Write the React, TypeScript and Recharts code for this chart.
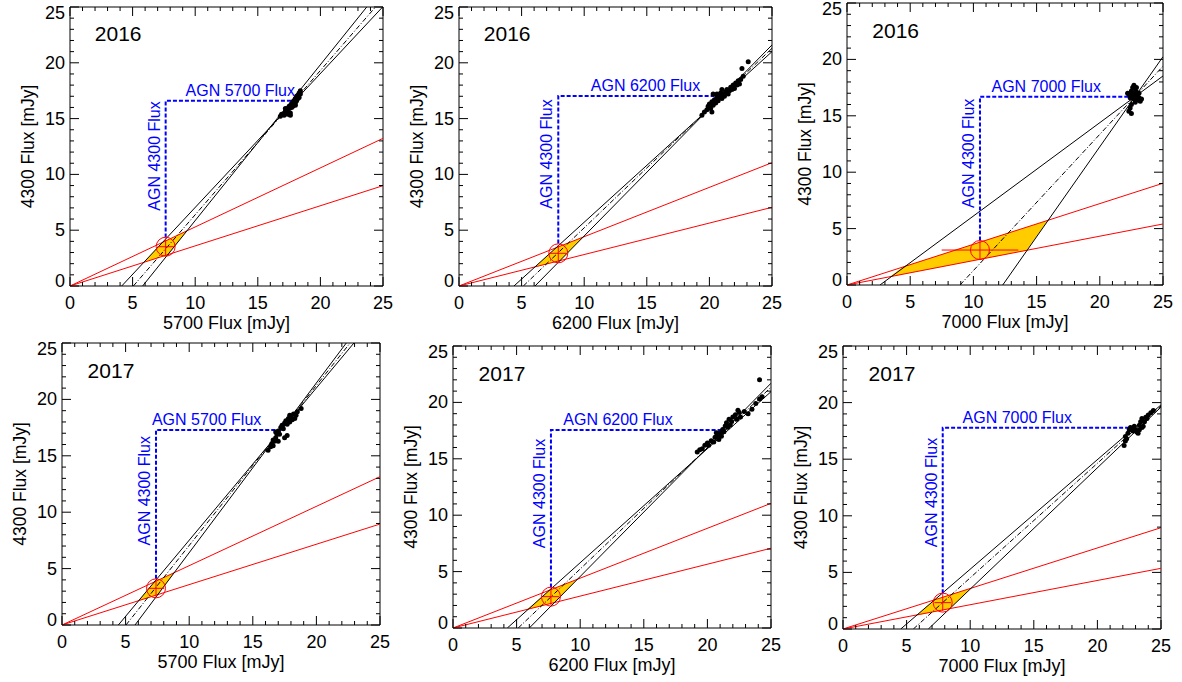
import { Scatter, ScatterChart, XAxis, YAxis } from 'recharts'

const FONT = '"Liberation Sans", Arial, Helvetica, sans-serif'

const years = ['2016', '2016', '2016', '2017', '2017', '2017']
const bands = ['5700', '6200', '7000', '5700', '6200', '7000']
const ticks = [0, 1, 2, 3, 4, 5, 6, 7, 8, 9, 10, 11, 12, 13, 14, 15, 16, 17, 18, 19, 20, 21, 22, 23, 24, 25]

// host galaxy ratio lines through the origin: y reached at x = 25
const hostHighAt25 = [13.23, 11.05, 9.02, 13.15, 11.05, 8.95]
const hostLowAt25 = [8.99, 7.05, 5.41, 8.95, 7.07, 5.36]

// flux-flux fits: [x where y = 0, end x, end y]
const fitA = [[4.13, 24.97, 25], [4.39, 25, 21.0], [2.61, 25, 18.53], [4.43, 22.95, 25], [4.27, 25, 20.95], [4.54, 25, 19.8]]
const fitMid = [[5.06, 24.4, 25], [5.14, 25, 21.3], [8.94, 25, 19.4], [5.03, 22.65, 25], [5.13, 25, 21.35], [5.53, 25, 19.7]]
const fitB = [[5.8, 23.7, 25], [6.07, 25, 21.6], [12.32, 25, 20.24], [5.74, 22.35, 25], [6.0, 25, 21.7], [6.71, 25, 19.6]]

// overlap of host wedge and fit band
const overlap = [
  [[5.9, 2.12], [7.39, 3.91], [9.34, 4.94], [7.81, 2.81]],
  [[6.07, 1.71], [7.75, 3.43], [9.91, 4.38], [8.06, 2.27]],
  [[3.35, 0.72], [4.45, 1.61], [15.9, 5.75], [14.2, 3.06]],
  [[6.03, 2.16], [7.25, 3.81], [8.82, 4.64], [7.53, 2.7]],
  [[5.8, 1.62], [7.59, 3.35], [9.75, 4.3], [7.98, 2.26]],
  [[5.8, 1.2], [7.2, 2.58], [10.05, 3.6], [8.38, 1.79]],
]

// AGN estimate: [x, y, x err, y err]
const agn = [[7.64, 3.52, 0.65, 0.75], [7.93, 2.93, 0.65, 0.75], [10.52, 3.1, 3.03, 0.8], [7.39, 3.25, 0.65, 0.75], [7.7, 2.78, 0.65, 0.75], [7.84, 2.33, 0.65, 0.75]]
const guideFrom = [4.35, 3.8, 3.95, 4.1, 3.6, 3.15]
const guideY = [16.6, 17.03, 16.69, 17.29, 17.55, 17.78]
const guideTo = [18.05, 21.1, 22.4, 17.27, 21.25, 22.9]
const agnLabelX = [13.6, 14.9, 15.76, 11.37, 12.97, 13.7]
const hostLabelY = [11.65, 11.83, 11.67, 11.9, 11.93, 12.06]
const yearAt = [3.85, 22.6]

const flux2016_5700 = [
  [16.8, 15.2], [16.9, 15.4], [17.1, 15.3], [17.2, 15.6], [17.3, 15.8], [17.4, 15.6], [17.5, 15.9], [17.5, 16.1],
  [17.6, 15.3], [17.7, 16.0], [17.7, 16.3], [17.8, 16.1], [17.8, 16.5], [17.9, 16.3], [17.9, 16.6], [18.0, 16.4],
  [18.0, 16.8], [18.1, 16.6], [18.1, 17.0], [18.2, 16.8], [18.2, 17.1], [18.3, 17.3], [18.3, 16.9], [18.4, 17.2],
  [18.4, 17.5], [17.6, 15.5], [17.2, 15.9], [18.0, 16.2], [17.4, 15.4],
]
const flux2016_6200 = [
  [19.4, 15.3], [19.6, 15.6], [19.8, 15.8], [19.9, 16.1], [20.0, 16.3], [20.1, 15.9], [20.2, 16.5], [20.2, 15.6],
  [20.3, 16.2], [20.4, 16.7], [20.5, 16.4], [20.6, 16.9], [20.6, 17.2], [20.7, 16.6], [20.8, 17.0], [20.9, 17.3],
  [21.0, 16.8], [21.1, 17.2], [21.2, 17.0], [21.3, 17.4], [21.4, 17.6], [21.5, 17.2], [21.6, 17.5], [21.7, 17.8],
  [21.8, 17.6], [21.9, 18.0], [22.0, 17.7], [22.1, 18.2], [22.2, 18.0], [22.3, 18.4], [22.4, 18.1], [22.5, 18.5],
  [22.7, 18.8], [22.6, 19.5], [23.1, 20.1], [20.3, 17.2], [21.0, 17.6],
]
const flux2016_7000 = [
  [22.4, 16.9], [22.5, 17.2], [22.6, 17.5], [22.7, 17.7], [22.8, 17.4], [22.9, 17.1], [22.6, 16.8], [22.4, 16.6],
  [22.3, 16.9], [22.7, 16.5], [22.9, 16.7], [23.0, 16.9], [23.1, 16.6], [23.2, 16.3], [22.8, 16.2], [23.0, 16.4],
  [22.5, 16.0], [22.4, 15.7], [22.3, 15.4], [22.5, 15.2], [22.6, 17.0], [22.8, 16.9], [23.1, 17.0], [22.9, 17.5],
  [23.3, 16.5], [22.2, 17.0],
]
const flux2017_5700 = [
  [16.2, 15.5], [16.4, 15.8], [16.5, 16.1], [16.6, 15.9], [16.7, 16.3], [16.8, 16.6], [16.9, 16.9], [16.8, 17.1],
  [17.0, 17.2], [17.1, 16.9], [17.2, 17.5], [17.3, 17.7], [17.4, 17.4], [17.5, 17.9], [17.6, 18.1], [17.7, 17.8],
  [17.8, 18.3], [17.9, 18.0], [18.0, 18.5], [18.1, 18.2], [18.2, 18.7], [18.4, 18.6], [18.5, 18.9], [18.8, 19.2],
  [17.5, 16.6], [17.7, 16.8], [17.0, 16.3], [16.6, 16.4], [17.9, 18.6], [18.3, 18.3],
]
const flux2017_6200 = [
  [19.2, 15.6], [19.4, 15.8], [19.6, 15.9], [19.8, 16.2], [20.0, 16.4], [20.1, 16.2], [20.3, 16.6], [20.5, 16.5],
  [20.6, 16.9], [20.8, 17.0], [20.9, 16.7], [21.0, 17.3], [21.1, 17.0], [21.2, 17.6], [21.3, 17.4], [21.4, 17.9],
  [21.5, 18.2], [21.6, 17.8], [21.7, 18.5], [21.9, 18.3], [22.0, 18.7], [22.2, 18.9], [22.3, 18.5], [22.5, 19.1],
  [22.6, 18.7], [22.9, 19.2], [23.2, 19.0], [23.5, 19.4], [23.8, 19.9], [24.1, 20.3], [24.3, 20.5], [24.1, 22.0],
  [20.7, 17.3], [21.8, 18.0], [22.4, 19.3],
]
const flux2017_7000 = [
  [22.1, 16.2], [22.2, 16.6], [22.2, 17.0], [22.3, 16.8], [22.4, 17.3], [22.5, 17.6], [22.6, 17.8], [22.7, 17.7],
  [22.9, 17.9], [23.0, 17.6], [23.1, 17.4], [23.2, 17.3], [23.3, 18.0], [23.4, 18.3], [23.5, 18.6], [23.5, 17.8],
  [23.6, 17.9], [23.7, 18.3], [23.8, 18.7], [23.9, 18.6], [24.0, 18.9], [24.2, 19.1], [24.4, 19.3], [22.8, 17.5],
  [23.3, 17.6],
]
const fluxSets = [flux2016_5700, flux2016_6200, flux2016_7000, flux2017_5700, flux2017_6200, flux2017_7000]

// plot frames on the page
const frames = [
  { left: 70, top: 7, w: 313, h: 279 },
  { left: 459, top: 7, w: 313, h: 279 },
  { left: 847, top: 3, w: 316, h: 282 },
  { left: 62, top: 343, w: 318, h: 282 },
  { left: 453, top: 346, w: 318, h: 282 },
  { left: 843, top: 346, w: 318, h: 283 },
]

const toPts = (list: number[][]) => list.map(([x, y]) => ({ x, y }))
const fitLine = (f: number[]) => [{ x: f[0], y: 0 }, { x: f[1], y: f[2] }]

type TickArgs = { x?: number; y?: number; payload?: { value: number } }
const tickLen = (v: number) => (v % 5 === 0 ? 9 : 4)
const tickText = { fontSize: 18, fontFamily: FONT, fill: '#000' }

const BottomTick = ({ x = 0, y = 0, payload }: TickArgs) => {
  const v = payload?.value ?? 0
  return (
    <g>
      <line x1={x} y1={y} x2={x} y2={y - tickLen(v)} stroke="#000" />
      {v % 5 === 0 && <text x={x} y={y + 22.5} textAnchor="middle" {...tickText}>{v}</text>}
    </g>
  )
}
const TopTick = ({ x = 0, y = 0, payload }: TickArgs) => (
  <line x1={x} y1={y} x2={x} y2={y + tickLen(payload?.value ?? 0)} stroke="#000" />
)
const LeftTick = ({ x = 0, y = 0, payload }: TickArgs) => {
  const v = payload?.value ?? 0
  // end labels are nudged inside the axis range
  const shift = v === 0 ? 1 : v === 25 ? 12 : 6
  return (
    <g>
      <line x1={x} y1={y} x2={x + tickLen(v)} y2={y} stroke="#000" />
      {v % 5 === 0 && <text x={x - 5} y={y + shift} textAnchor="end" {...tickText}>{v}</text>}
    </g>
  )
}
const RightTick = ({ x = 0, y = 0, payload }: TickArgs) => (
  <line x1={x} y1={y} x2={x - tickLen(payload?.value ?? 0)} y2={y} stroke="#000" />
)

const noShape = () => <g />
const dot = (p: any) => <circle cx={p.cx} cy={p.cy} r={2.5} fill="#000" />
const ring = (p: any) => <circle cx={p.cx} cy={p.cy} r={9.5} fill="none" stroke="#ff0000" strokeWidth={1} />

function Panel({ i }: { i: number }) {
  const f = frames[i]
  const [ax, ay, ex, ey] = agn[i]
  const guide = [{ x: ax, y: guideFrom[i] }, { x: ax, y: guideY[i] }, { x: guideTo[i], y: guideY[i] }]
  const red = { stroke: '#ff0000', strokeWidth: 1 }
  const black = { stroke: '#000', strokeWidth: 1 }
  const yearShape = (p: any) => (
    <text x={p.cx} y={p.cy} dy="0.36em" textAnchor="middle" fontSize={21} fontFamily={FONT} fill="#000">
      {years[i]}
    </text>
  )
  const agnShape = (p: any) => (
    <text x={p.cx} y={p.cy - 5} textAnchor="middle" fontSize={16} fontFamily={FONT} fill="#0000ff">
      AGN {bands[i]} Flux
    </text>
  )
  const hostShape = (p: any) => (
    <text
      x={p.cx - 6}
      y={p.cy}
      transform={`rotate(-90 ${p.cx - 6} ${p.cy})`}
      textAnchor="middle"
      fontSize={16}
      fontFamily={FONT}
      fill="#0000ff"
    >
      AGN 4300 Flux
    </text>
  )
  return (
    <div style={{ position: 'absolute', left: f.left - 84, top: f.top - 10 }}>
      <ScatterChart width={84 + f.w + 11} height={10 + f.h + 50} margin={{ top: 9, right: 10, left: 0, bottom: 0 }}>
        <XAxis
          dataKey="x"
          type="number"
          domain={[0, 25]}
          ticks={ticks}
          interval={0}
          allowDataOverflow
          height={50}
          stroke="#000"
          tickLine={false}
          tickSize={0}
          tickMargin={0}
          tick={BottomTick}
          label={{ value: `${bands[i]} Flux [mJy]`, position: 'insideBottom', offset: 7, fontSize: 18, fontFamily: FONT, fill: '#000' }}
        />
        <XAxis
          xAxisId="top"
          orientation="top"
          dataKey="x"
          type="number"
          domain={[0, 25]}
          ticks={ticks}
          interval={0}
          allowDataOverflow
          height={1}
          stroke="#000"
          tickLine={false}
          tickSize={0}
          tickMargin={0}
          tick={TopTick}
        />
        <YAxis
          dataKey="y"
          type="number"
          domain={[0, 25]}
          ticks={ticks}
          interval={0}
          allowDataOverflow
          width={84}
          stroke="#000"
          tickLine={false}
          tickSize={0}
          tickMargin={0}
          tick={LeftTick}
          label={{ value: '4300 Flux [mJy]', angle: -90, position: 'center', fontSize: 17.5, fontFamily: FONT, fill: '#000' }}
        />
        <YAxis
          yAxisId="right"
          orientation="right"
          dataKey="y"
          type="number"
          domain={[0, 25]}
          ticks={ticks}
          interval={0}
          allowDataOverflow
          width={1}
          stroke="#000"
          tickLine={false}
          tickSize={0}
          tickMargin={0}
          tick={RightTick}
        />
        <Scatter
          data={toPts(overlap[i])}
          line={{ fill: '#ffcc00', stroke: 'none' }}
          shape={noShape}
          isAnimationActive={false}
        />
        <Scatter data={[{ x: 0, y: 0 }, { x: 25, y: hostHighAt25[i] }]} line={red} shape={noShape} isAnimationActive={false} />
        <Scatter data={[{ x: 0, y: 0 }, { x: 25, y: hostLowAt25[i] }]} line={red} shape={noShape} isAnimationActive={false} />
        <Scatter data={fitLine(fitA[i])} line={black} shape={noShape} isAnimationActive={false} />
        <Scatter data={fitLine(fitB[i])} line={black} shape={noShape} isAnimationActive={false} />
        <Scatter
          data={fitLine(fitMid[i])}
          line={{ ...black, strokeDasharray: '5 2 1 2' }}
          shape={noShape}
          isAnimationActive={false}
        />
        <Scatter
          data={guide}
          line={{ stroke: '#0000ff', strokeWidth: 2, strokeDasharray: '4 2' }}
          shape={noShape}
          isAnimationActive={false}
        />
        <Scatter data={toPts(fluxSets[i])} shape={dot} isAnimationActive={false} />
        <Scatter data={[{ x: ax - ex, y: ay }, { x: ax + ex, y: ay }]} line={red} shape={noShape} isAnimationActive={false} />
        <Scatter data={[{ x: ax, y: ay - ey }, { x: ax, y: ay + ey }]} line={red} shape={noShape} isAnimationActive={false} />
        <Scatter data={[{ x: ax, y: ay }]} shape={ring} isAnimationActive={false} />
        <Scatter data={[{ x: yearAt[0], y: yearAt[1] }]} shape={yearShape} isAnimationActive={false} />
        <Scatter data={[{ x: agnLabelX[i], y: guideY[i] }]} shape={agnShape} isAnimationActive={false} />
        <Scatter data={[{ x: ax, y: hostLabelY[i] }]} shape={hostShape} isAnimationActive={false} />
      </ScatterChart>
    </div>
  )
}

export default function App() {
  return (
    <div style={{ position: 'absolute', left: 0, top: 0, width: 1182, height: 682, background: '#fff', overflow: 'hidden' }}>
      {frames.map((_, i) => (
        <Panel key={i} i={i} />
      ))}
    </div>
  )
}
